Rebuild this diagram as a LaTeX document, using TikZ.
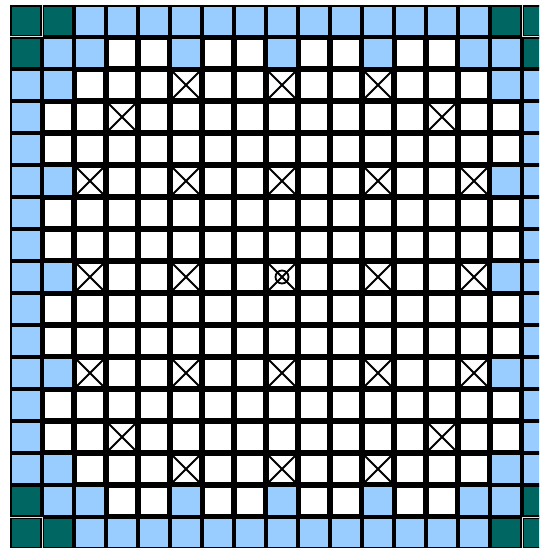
\documentclass[tikz,border=0pt]{standalone}
\definecolor{tealcell}{RGB}{0,102,98}
\definecolor{bluecell}{RGB}{153,204,255}
\tikzset{
  fuelcell/.style={draw=black, line width=2.6pt, fill=white},
  colfill/.style={fill=#1},
  colborder/.style={draw=black, line width=1.8pt},
  gridline/.style={draw=gray!60, line width=0.6pt},
  highlight/.style={draw=gray!20, line width=1pt},
  tubemark/.style={draw=black, line width=1.8pt},
  cellat/.style 2 args={shift={({10+32*#2},{5+32*#1})}}
}
\begin{document}
\begin{tikzpicture}[x=1pt,y=-1pt]
\useasboundingbox (0,0) rectangle (539,548);
\clip (0,0) rectangle (539,548);
\fill[white] (0,0) rectangle (539,548);
% thin grid lines (seen between coloured cells)
\foreach \i in {0,...,17}{
  \path[gridline] ({10+32*\i},5) -- ({10+32*\i},549);
  \path[gridline] (10,{5+32*\i}) -- (554,{5+32*\i});
}
% fuel (white) cells
\foreach \r in {1,...,15}{
  \foreach \c in {1,...,15}{
    \begin{scope}[cellat={\r}{\c}]
      \path[fuelcell] (1.3,1.3) rectangle (30.7,30.7);
    \end{scope}
  }
}
% teal corner cells
\foreach \r/\c in {0/0,0/1,1/0,0/15,0/16,1/16,15/0,16/0,16/1,15/16,16/15,16/16}{
  \begin{scope}[cellat={\r}{\c}]
    \path[colfill=tealcell] (0.3,0.3) rectangle (31.7,31.7);
    \path[colborder] (1.2,1.2) rectangle (30.8,30.8);
  \end{scope}
}
% blue cells
\foreach \r/\c in {0/2,0/3,0/4,0/5,0/6,0/7,0/8,0/9,0/10,0/11,0/12,0/13,0/14,
  16/2,16/3,16/4,16/5,16/6,16/7,16/8,16/9,16/10,16/11,16/12,16/13,16/14,
  2/0,3/0,4/0,5/0,6/0,7/0,8/0,9/0,10/0,11/0,12/0,13/0,14/0,
  2/16,3/16,4/16,5/16,6/16,7/16,8/16,9/16,10/16,11/16,12/16,13/16,14/16,
  1/1,1/2,1/5,1/8,1/11,1/14,1/15,
  15/1,15/2,15/5,15/8,15/11,15/14,15/15,
  2/1,5/1,8/1,11/1,14/1,
  2/15,5/15,8/15,11/15,14/15}{
  \begin{scope}[cellat={\r}{\c}]
    \path[colfill=bluecell] (0.3,0.3) rectangle (31.7,31.7);
    \path[colborder] (1.2,1.2) rectangle (30.8,30.8);
  \end{scope}
}
% light edges of the corner cells
\path[highlight] (42,5) -- (42,37) -- (10,37);
\path[highlight] (522,5) -- (522,37) -- (554,37);
\path[highlight] (10,517) -- (42,517) -- (42,549);
\path[highlight] (554,517) -- (522,517) -- (522,549);
% guide tubes
\foreach \r/\c in {2/5,2/8,2/11,3/3,3/13,5/2,5/5,5/8,5/11,5/14,
  8/2,8/5,8/11,8/14,11/2,11/5,11/8,11/11,11/14,13/3,13/13,14/5,14/8,14/11,8/8}{
  \begin{scope}[cellat={\r}{\c}]
    \path[tubemark] (2.6,2.6) -- (29.4,29.4) (29.4,2.6) -- (2.6,29.4);
  \end{scope}
}
% instrument tube
\begin{scope}[cellat={8}{8}]
  \path[tubemark] (16,16) circle[radius=6.5pt];
\end{scope}
\end{tikzpicture}
\end{document}
